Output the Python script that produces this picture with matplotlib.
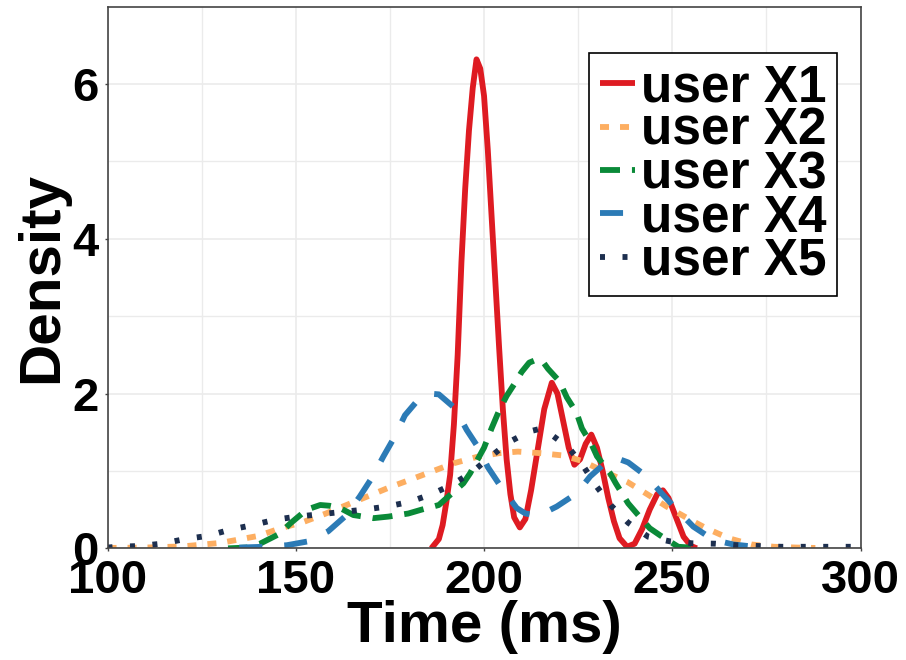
import matplotlib
matplotlib.use("Agg")
import matplotlib.pyplot as plt

plt.rcParams['font.family'] = ['Liberation Sans', 'DejaVu Sans']
plt.rcParams['font.weight'] = 'bold'
plt.rcParams['lines.scale_dashes'] = False

# density curves (time in ms, density)
x1_t = [186, 188, 189, 190, 191, 192, 193, 194, 195, 196, 197, 198, 199, 200, 201, 202, 203, 204,
        205, 206, 207, 208, 209.5, 211, 212.5, 214, 216, 218, 219.5, 221, 222.5, 224, 225.5, 227,
        228.5, 230, 231.5, 233, 234.5, 236, 238, 240, 242, 244, 246, 247.5, 249, 251, 253, 255, 256.5]
x1_d = [0.0, 0.12, 0.3, 0.6, 0.95, 1.6, 2.5, 3.7, 4.65, 5.4, 5.95, 6.32, 6.2, 5.85, 5.15, 4.3, 3.45, 2.6,
        1.8, 1.15, 0.7, 0.4, 0.27, 0.38, 0.75, 1.2, 1.8, 2.14, 2.0, 1.65, 1.3, 1.08, 1.15, 1.35,
        1.47, 1.3, 1.0, 0.65, 0.35, 0.13, 0.02, 0.06, 0.25, 0.5, 0.7, 0.75, 0.65, 0.4, 0.15, 0.03, 0.0]

x2_t = [100, 110, 120, 130, 140, 146, 152, 158, 164, 170, 175, 180, 186, 192, 198, 204, 209, 215,
        221, 226, 232, 238, 243, 248.5, 254, 259, 265, 271, 277, 283, 288]
x2_d = [0.005, 0.01, 0.025, 0.07, 0.16, 0.26, 0.34, 0.45, 0.57, 0.69, 0.79, 0.88, 0.99, 1.1, 1.18, 1.23,
        1.25, 1.23, 1.2, 1.13, 0.99, 0.86, 0.71, 0.54, 0.39, 0.26, 0.13, 0.05, 0.02, 0.01, 0.005]

x3_t = [132, 137, 140.5, 145.8, 148.5, 152.9, 156.5, 159, 161.8, 165.3, 170.6, 174.6, 179.9, 183.4,
        188, 191, 194.5, 196.3, 200, 202, 204, 206, 208, 210, 212, 214, 215.5, 217, 220, 222, 224.6,
        226, 228.6, 230, 233.5, 235, 238.3, 240.6, 244, 246.7, 251.6, 258]
x3_d = [0.0, 0.01, 0.06, 0.19, 0.32, 0.5, 0.56, 0.55, 0.52, 0.43, 0.39, 0.41, 0.45, 0.5,
        0.56, 0.69, 0.84, 0.97, 1.3, 1.55, 1.78, 1.97, 2.12, 2.28, 2.4, 2.44, 2.42, 2.32, 2.16, 1.95, 1.75,
        1.55, 1.34, 1.19, 0.97, 0.84, 0.58, 0.45, 0.26, 0.17, 0.02, 0.0]

x4_t = [135, 141.4, 147.6, 153.3, 158.6, 163.5, 167, 170.2, 173.3, 176, 179, 182.5, 185.5, 188,
        192.3, 195.4, 198.5, 201, 204.7, 208.7, 211, 213.5, 216, 219.3, 224.6, 228.2, 232.6, 235.5,
        238.3, 243.2, 247.2, 251.2, 255.6, 260.9, 266.2, 272]
x4_d = [0.01, 0.02, 0.04, 0.09, 0.22, 0.43, 0.67, 0.91, 1.19, 1.42, 1.72, 1.92, 2.0, 1.99,
        1.81, 1.53, 1.3, 1.05, 0.78, 0.52, 0.45, 0.43, 0.46, 0.54, 0.71, 0.93, 1.12, 1.16,
        1.11, 0.93, 0.71, 0.5, 0.28, 0.11, 0.05, 0.02]

x5_t = [100, 102.4, 108.4, 114.4, 120.6, 126.5, 132.5, 138.5, 144.5, 150.3, 156.4, 162.2, 168.1,
        174.2, 180.2, 186.1, 191.4, 196.7, 201.6, 206.5, 212, 214.5, 217.3, 222.5, 226.4, 229.9,
        233.8, 238.3, 243.6, 249.4, 255.3, 261.4, 267.1, 272.9, 279, 285, 291, 297.2, 300]
x5_d = [0.01, 0.02, 0.03, 0.06, 0.12, 0.16, 0.24, 0.3, 0.37, 0.41, 0.44, 0.47, 0.5,
        0.54, 0.6, 0.7, 0.82, 0.98, 1.18, 1.37, 1.51, 1.54, 1.49, 1.3, 1.06, 0.8,
        0.55, 0.33, 0.15, 0.09, 0.065, 0.06, 0.04, 0.03, 0.02, 0.02, 0.02, 0.02, 0.02]

labels = ['user X1', 'user X2', 'user X3', 'user X4', 'user X5']
colors = ['#de1b22', '#fdae61', '#0a8a38', '#2c7bb6', '#1d2f4f']
dashes = [None, (6.5, 7.9), (14.4, 8.6), (16.6, 15.8), (3.6, 12.6)]
series = [(x1_t, x1_d), (x2_t, x2_d), (x3_t, x3_d), (x4_t, x4_d), (x5_t, x5_d)]

fig = plt.figure(figsize=(9.06, 6.6), dpi=100)
ax = fig.add_axes([0.1187, 0.1692, 0.9498 - 0.1187, 0.9898 - 0.1692])

for (t, d), lab, c, ds in zip(series, labels, colors, dashes):
    line, = ax.plot(t, d, color=c, lw=4.2, label=lab, solid_capstyle='butt', dash_capstyle='butt')
    if ds is not None:
        line.set_dashes(ds)

ax.set_xlim(100, 300)
ax.set_ylim(0, 7)
ax.set_xticks([100, 150, 200, 250, 300])
ax.set_yticks([0, 2, 4, 6])
ax.set_xticks([125, 175, 225, 275], minor=True)
ax.set_yticks([1, 3, 5], minor=True)
ax.grid(True, which='major', color='#ebebeb', lw=1.2)
ax.grid(True, which='minor', color='#ebebeb', lw=1.0)
ax.set_axisbelow(True)
ax.tick_params(which='major', length=2.5, width=1, color='#444444', labelsize=34)
ax.tick_params(axis='x', pad=5)
ax.tick_params(axis='y', pad=4)
ax.tick_params(which='minor', length=0)
for s in ax.spines.values():
    s.set_color('#444444')
    s.set_linewidth(1.2)

ax.set_xlabel('Time (ms)', fontsize=42, fontweight='bold', labelpad=-2)
ax.set_ylabel('Density', fontsize=42, fontweight='bold', labelpad=2)

leg = ax.legend(loc='upper right', bbox_to_anchor=(0.969, 0.9145), borderaxespad=0,
                fontsize=37, handlelength=0.69, handletextpad=0.12, labelspacing=-0.11,
                borderpad=0.2, fancybox=False, framealpha=1, edgecolor='black')
leg.get_frame().set_linewidth(1.2)

fig.savefig('out.png', dpi=100)
